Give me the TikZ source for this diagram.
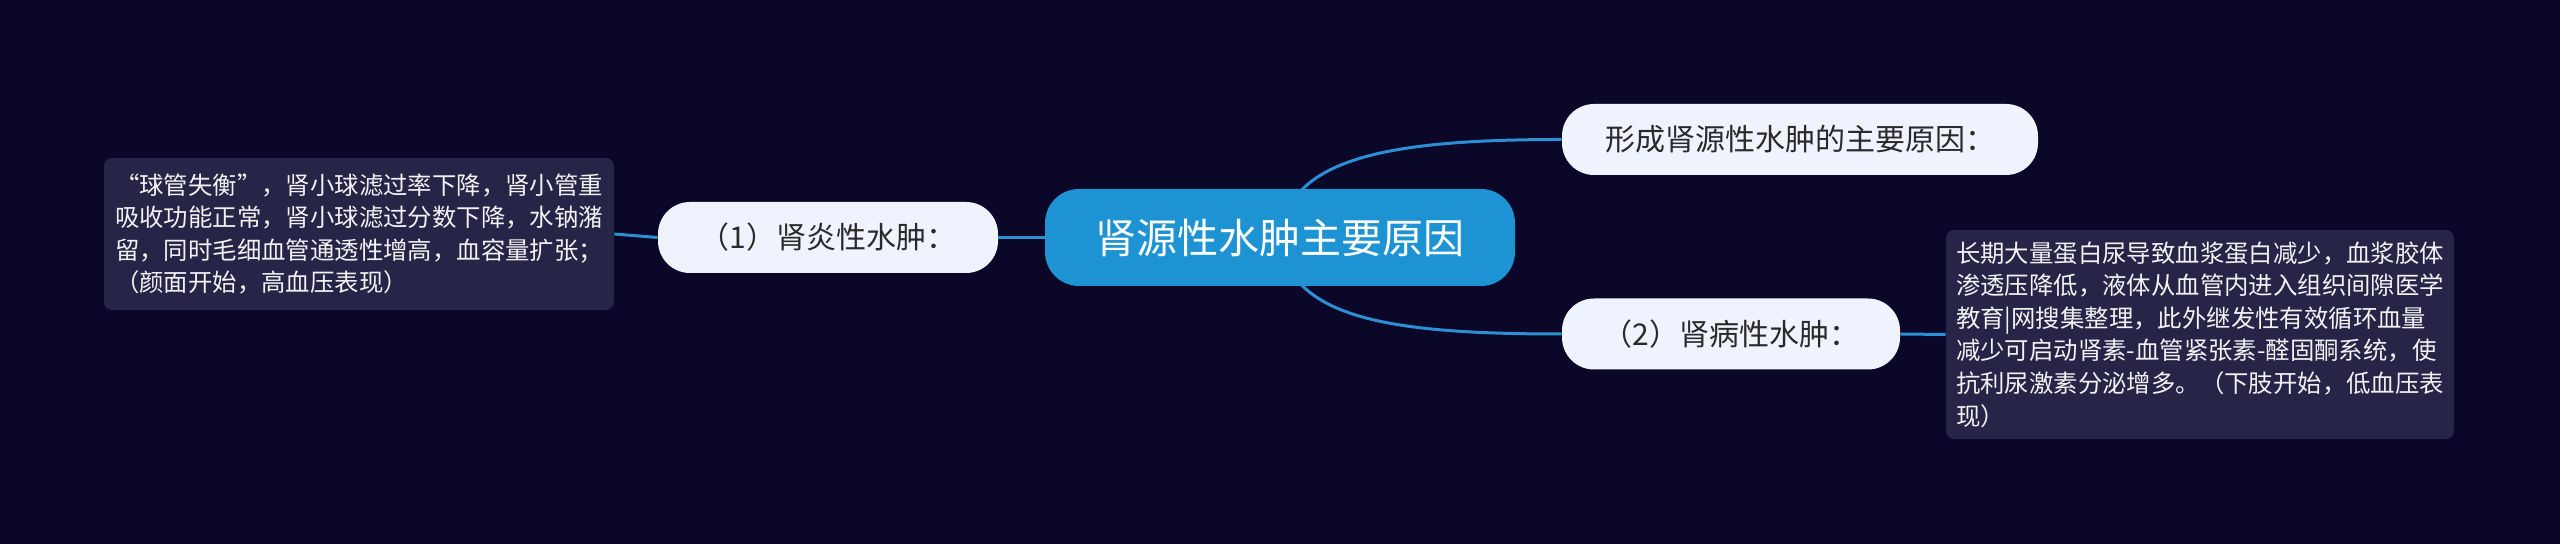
\documentclass[tikz,border=0pt]{standalone}
\usepackage{fontspec}
\setmainfont{Noto Sans CJK SC}
\definecolor{bgc}{HTML}{0B0729}
\definecolor{centerfill}{HTML}{1E93D3}
\definecolor{subfill}{HTML}{EEF3FD}
\definecolor{subtext}{HTML}{2A2A2A}
\definecolor{boxfill}{HTML}{262447}
\definecolor{boxtext}{HTML}{F2F2F2}
\definecolor{linec}{HTML}{2A8FD3}
\tikzset{
  centernode/.style={fill=centerfill, text=white, rounded corners=17pt,
    minimum width=235pt, minimum height=48.5pt, inner sep=0pt,
    font=\fontsize{20.5pt}{24pt}\selectfont},
  subnode/.style={fill=subfill, text=subtext, rounded corners=16pt,
    minimum height=35.5pt, inner sep=0pt,
    font=\fontsize{15pt}{18pt}\selectfont},
  textbox/.style={fill=boxfill, text=boxtext, rounded corners=4pt,
    inner sep=0pt, align=left,
    font=\fontsize{12.2pt}{16.3pt}\selectfont},
  conn/.style={draw=linec, line width=1.5pt},
}
\begin{document}
\begin{tikzpicture}[x=0.5pt,y=-0.5pt]
\fill[bgc] (0,0) rectangle (2560,544);
\useasboundingbox (0,0) rectangle (2560,544);

\node[centernode] (c) at (1280,237.5) {肾源性水肿主要原因};
\node[subnode, minimum width=170pt] (n1) at (828,237.5) {（1）肾炎性水肿：};
\node[subnode, minimum width=238pt] (n0) at (1800,139.5) {形成肾源性水肿的主要原因：};
\node[subnode, minimum width=169pt] (n2) at (1731,334) {（2）肾病性水肿：};

\node[textbox, minimum width=255pt, minimum height=76pt] (lb) at (359,234)
  {“球管失衡”，肾小球滤过率下降，肾小管重\\
   吸收功能正常，肾小球滤过分数下降，水钠潴\\
   留，同时毛细血管通透性增高，血容量扩张；\\
   （颜面开始，高血压表现）};
\node[textbox, minimum width=254pt, minimum height=104.5pt] (rb) at (2200,334.5)
  {长期大量蛋白尿导致血浆蛋白减少，血浆胶体\\
   渗透压降低，液体从血管内进入组织间隙医学\\
   教育|网搜集整理，此外继发性有效循环血量\\
   减少可启动肾素-血管紧张素-醛固酮系统，使\\
   抗利尿激素分泌增多。（下肢开始，低血压表\\
   现）};

\draw[conn] (c.west) -- (n1.east);
\draw[conn] (n1.west) -- (lb.east);
\draw[conn] (n2.east) -- (rb.west);
\draw[conn] ([xshift=10.5pt,yshift=-1pt]c.north) .. controls (1340,150) and (1430,139.5) .. (n0.west);
\draw[conn] ([xshift=10.5pt,yshift=1pt]c.south) .. controls (1340,325) and (1430,334) .. (n2.west);
\end{tikzpicture}
\end{document}
